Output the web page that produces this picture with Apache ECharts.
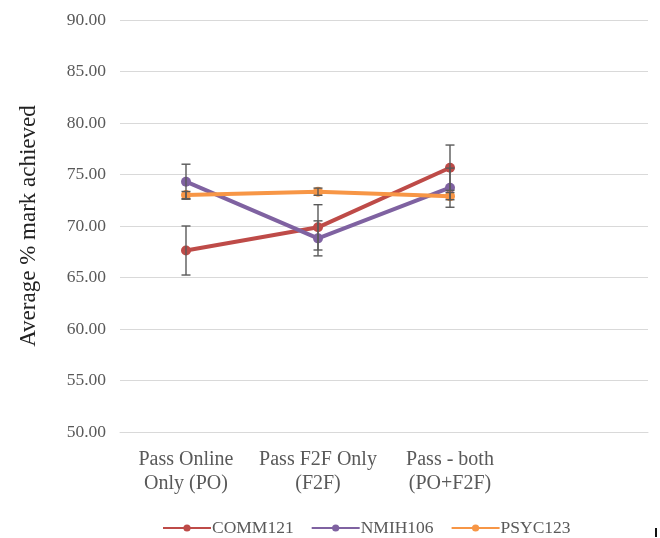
<!DOCTYPE html>
<html>
<head>
<meta charset="utf-8">
<style>
  html, body { margin: 0; padding: 0; background: #fff; }
  #chart { width: 660px; height: 538px; }
</style>
<script src="https://cdn.jsdelivr.net/npm/echarts@6/dist/echarts.min.js"></script>
</head>
<body>
<div id="chart"></div>
<script>
// Group categories (the fourth slot is left empty on purpose)
const categories = ['Pass Online\nOnly (PO)', 'Pass F2F Only\n(F2F)', 'Pass - both\n(PO+F2F)', ''];

// Average marks per unit
const comm121 = [67.62, 69.87, 75.66];
const nmih106 = [74.30, 68.80, 73.72];
const psyc123 = [73.00, 73.33, 72.90];

// Error bar half-widths per unit
const comm121Err = [2.38, 2.2, 2.2];
const nmih106Err = [1.7, 1.7, 1.9];
const psyc123Err = [0.35, 0.35, 0.35];

const yTicks = { min: 50, max: 90, step: 5 };

const FONT = '"Liberation Serif", "DejaVu Serif", serif';
const colors = { COMM121: '#BE4B48', NMIH106: '#7F62A1', PSYC123: '#F79646' };

function lineSeries(name, values) {
  return {
    name: name,
    type: 'line',
    data: values,
    symbol: 'circle',
    symbolSize: 10,
    z: 3,
    lineStyle: { width: 4, color: colors[name] },
    itemStyle: { color: colors[name] }
  };
}

function errorSeries(name, values, errs) {
  return {
    name: name,
    type: 'custom',
    z: 4,
    data: values.map((v, i) => [i, v - errs[i], v + errs[i]]),
    renderItem: function (params, api) {
      const x = api.value(0);
      const lo = api.coord([x, api.value(1)]);
      const hi = api.coord([x, api.value(2)]);
      const half = 4.5;
      const style = { stroke: '#595959', lineWidth: 1.4 };
      return {
        type: 'group',
        children: [
          { type: 'line', shape: { x1: lo[0], y1: lo[1], x2: hi[0], y2: hi[1] }, style: style },
          { type: 'line', shape: { x1: hi[0] - half, y1: hi[1], x2: hi[0] + half, y2: hi[1] }, style: style },
          { type: 'line', shape: { x1: lo[0] - half, y1: lo[1], x2: lo[0] + half, y2: lo[1] }, style: style }
        ]
      };
    },
    silent: true
  };
}

const chart = echarts.init(document.getElementById('chart'), null, { renderer: 'canvas' });

chart.setOption({
  animation: false,
  backgroundColor: '#ffffff',
  grid: { left: 120, right: 12, top: 20, bottom: 106 },
  legend: {
    data: ['COMM121', 'NMIH106', 'PSYC123'],
    left: 157,
    top: 514,
    itemWidth: 48,
    itemHeight: 9,
    itemGap: 17,
    textStyle: { fontFamily: FONT, fontSize: 17.5, color: '#595959', padding: [0, 0, 0, -4] }
  },
  xAxis: {
    type: 'category',
    data: categories,
    boundaryGap: true,
    axisLine: { show: true, lineStyle: { color: '#d9d9d9', width: 1 } },
    axisTick: { show: false },
    axisLabel: {
      interval: 0,
      margin: 16,
      fontFamily: FONT,
      fontSize: 20,
      lineHeight: 24,
      color: '#595959'
    }
  },
  yAxis: {
    type: 'value',
    min: yTicks.min,
    max: yTicks.max,
    interval: yTicks.step,
    name: 'Average % mark achieved',
    nameLocation: 'middle',
    nameGap: 80,
    nameTextStyle: { fontFamily: FONT, fontSize: 23, color: '#222222' },
    axisLine: { show: false },
    axisTick: { show: false },
    splitLine: { lineStyle: { color: '#d9d9d9', width: 1 } },
    axisLabel: {
      margin: 14,
      fontFamily: FONT,
      fontSize: 17.5,
      color: '#595959',
      formatter: v => v.toFixed(2)
    }
  },
  series: [
    lineSeries('COMM121', comm121),
    lineSeries('NMIH106', nmih106),
    lineSeries('PSYC123', psyc123),
    errorSeries('COMM121', comm121, comm121Err),
    errorSeries('NMIH106', nmih106, nmih106Err),
    errorSeries('PSYC123', psyc123, psyc123Err)
  ],
  graphic: [
    { type: 'rect', left: 655, top: 528, shape: { width: 2, height: 9 }, style: { fill: '#111' } }
  ]
});
</script>
</body>
</html>
